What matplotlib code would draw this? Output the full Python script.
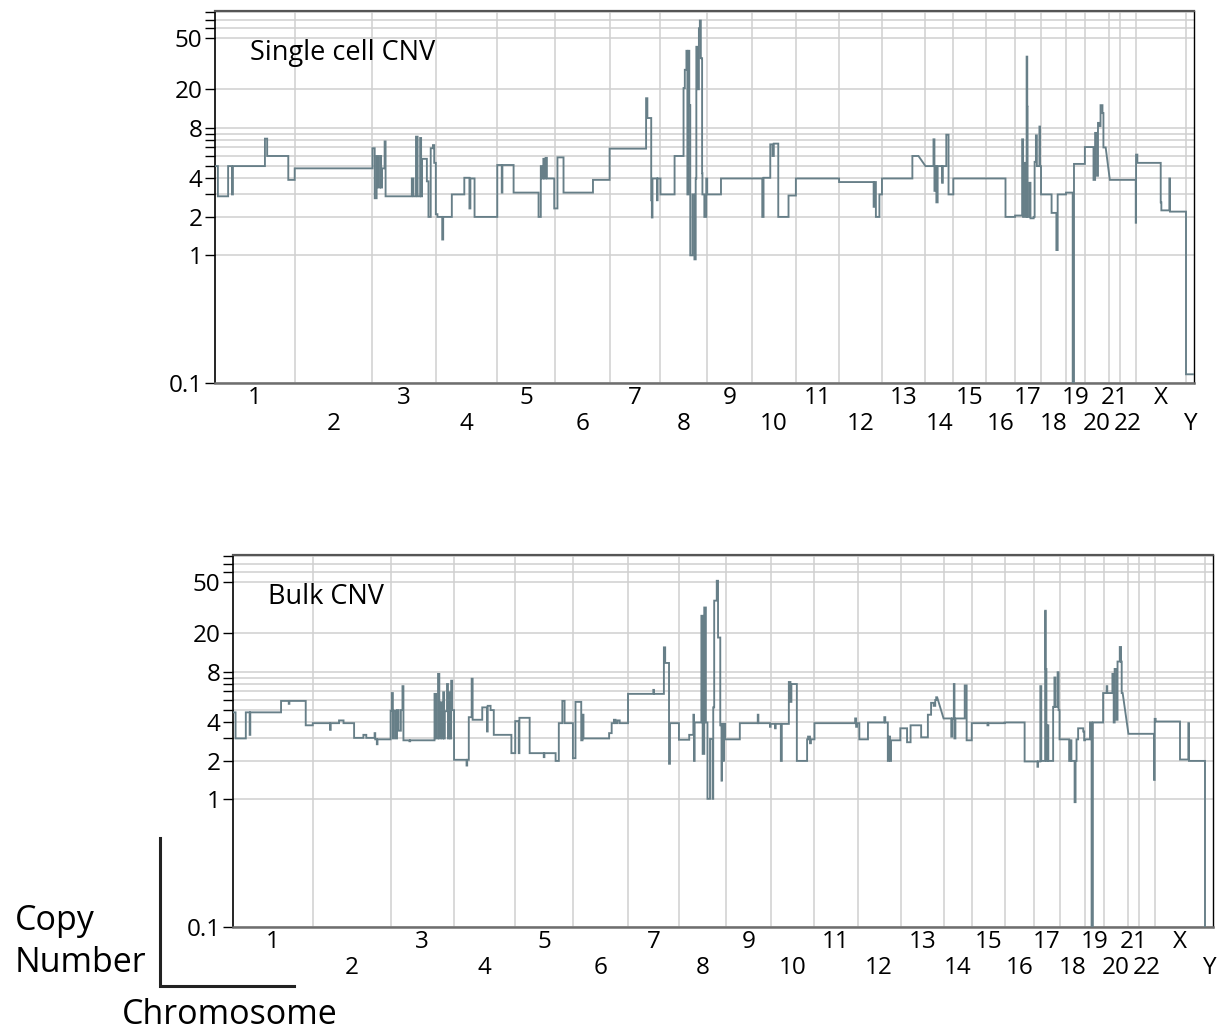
import numpy as np
import matplotlib
matplotlib.use("Agg")
import matplotlib.pyplot as plt
from matplotlib.ticker import NullFormatter

plt.rcParams["font.family"] = ["Open Sans", "DejaVu Sans"]

nan = float("nan")

_LINE = "#677f88"
_GRID = "#d0d0d0"

# chromosome names and plotted lengths (Mb)
chrom_names = [str(i) for i in range(1, 23)] + ["X", "Y"]
chrom_len = [249, 243, 198, 191, 181, 171, 159, 146, 141, 136, 135, 134,
             135, 88, 103, 90, 81, 78, 59, 75, 35, 51, 155, 25]

# single cell: segment start (genome Mb) and copy number, nan = sloped join
sc_pos = [
    0, 9, 41, 53, 56, 156, 163, 229,
    249,
    492, 499, 505, 510, 516, 519, 522, 530, 533, 615, 620, 628, 633, 641,
    644, 647, 662, 667, 674, 681, 685,
    690, 695, 710, 713, 740, 779, 795, 798, 811,
    882, 896, 898, 933, 1011, 1018, 1022, 1026, 1029, 1033, 1037,
    1060, 1070, 1089, 1181,
    1233, 1347, 1351, 1363, 1365, 1367, 1381, 1383,
    1392, 1436, 1464, 1468, 1473, 1476, 1479, 1482, 1485, 1492, 1498, 1502,
    1504, 1507, 1512, 1515, 1518, 1522, 1523, 1529, 1535,
    1538, 1581,
    1710, 1714, 1735, 1742, 1746, 1760, 1792,
    1815,
    1950, 2058, 2061, 2065, 2076,
    2084, 2179, 2198,
    2220, 2245, 2248, 2252, 2254, 2258, 2272, 2274, 2285, 2292,
    2307, 2470,
    2500, 2522, 2525, 2527, 2533, 2536, 2538, 2539, 2545, 2548, 2558, 2561,
    2565, 2568, 2576, 2578,
    2581, 2614, 2629, 2633,
    2659, 2680, 2684,
    2718, 2745, 2750, 2756, 2759, 2762, 2767, 2773, 2776, 2783,
    2796, 2877, 2878,
    2882, 2955, 2957, 2982, 2984,
    3034,
]
sc_cn = [
    5.0, 2.9, 5.0, 3.0, 5.0, 8.2, 6.0, 3.9,
    4.8,
    6.9, 2.8, 6.0, 3.4, 6.0, 3.4, 4.8, 7.8, 2.9, 4.0, 2.9, 8.5, 2.9, 8.3,
    2.9, 5.7, 3.8, 2.0, 6.9, 7.3, 5.3,
    2.1, 2.0, 1.33, 2.0, 3.0, 4.05, 2.33, 4.0, 2.0,
    5.1, 3.1, 5.1, 3.1, 2.0, 5.0, 4.0, 5.7, 4.0, 5.8, 4.0,
    2.33, 5.85, 3.1, 3.9,
    6.85, 17.0, 11.9, 2.7, 1.98, 4.0, 2.7, 4.0,
    3.0, 6.0, 20.4, 28.4, 40.0, 3.0, 40.0, 15.0, 1.0, 3.0, 0.93, 4.0,
    43.0, 20.0, 60.0, 69.0, 35.0, 4.4, 3.0, 2.0, 4.0,
    3.0, 4.0,
    2.0, 4.05, 7.4, 6.0, 7.5, 2.0, 2.94,
    4.0,
    3.75, 2.4, 3.75, 2.0, 3.0,
    4.0, 6.0, nan,
    5.0, 8.1, 3.2, 5.0, 2.6, 5.0, 3.7, 5.0, 8.8, 3.0,
    4.0, 2.0,
    2.05, 8.1, 2.0, 5.3, 2.0, 36.0, 14.6, 2.0, 3.7, 1.95, 2.0, 5.4,
    8.7, 5.0, 10.2, 5.0,
    3.0, 2.15, 1.1, 3.0,
    3.1, 0.05, 5.2,
    7.05, 3.9, 9.1, 4.2, 10.9, 10.3, 15.0, 13.0, 7.0, nan,
    3.9, 1.8, 6.15,
    5.3, 2.6, 2.25, 4.0, 2.2,
    0.117,
]

# bulk: segment start (genome Mb) and copy number
bulk_pos = [
    0, 8, 40, 52, 54, 150, 174, 176, 227,
    249, 303, 305, 331, 345, 378, 407, 416, 442, 444, 449, 451,
    492, 496, 499, 501, 507, 512, 517, 524, 529, 532, 551, 553, 629, 634,
    640, 644, 648, 653, 656, 659, 661, 668, 671, 675, 679, 681, 684,
    690, 729, 731, 736, 745, 748, 778, 793, 795, 804, 814, 869,
    881, 892, 894, 926, 970, 972, 1007, 1017, 1028, 1035,
    1061, 1069, 1087, 1091, 1094, 1174, 1182, 1189, 1194, 1200, 1207,
    1233, 1312, 1314, 1345, 1349, 1361, 1364,
    1392, 1424, 1437, 1439, 1441, 1462, 1466, 1471, 1476, 1481, 1489, 1497,
    1499, 1502, 1510, 1514, 1521, 1525, 1526, 1531, 1532, 1536,
    1582, 1638, 1640, 1676, 1678,
    1692, 1694, 1710, 1713, 1735, 1740, 1743, 1760, 1792, 1795, 1801, 1804,
    1815, 1942, 1945, 1948,
    1955, 1982, 2033, 2036, 2044, 2047, 2051, 2054,
    2083, 2104, 2115, 2148, 2169, 2179, 2187, 2192, 2195, 2198,
    2218, 2242, 2245, 2250, 2252, 2255, 2284, 2290,
    2306, 2355, 2358,
    2409, 2471,
    2511, 2513, 2520, 2523, 2535, 2537, 2539, 2542, 2545, 2560, 2564, 2567,
    2574, 2577,
    2580, 2610, 2614, 2617, 2627, 2630, 2633, 2638, 2654, 2657,
    2659, 2675, 2680, 2684,
    2716, 2727, 2729, 2745, 2749, 2752, 2758, 2761, 2768, 2772, 2774, 2777,
    2795, 2875, 2877,
    2880, 2956, 2982, 2984,
    3034,
]
bulk_cn = [
    4.8, 3.0, 4.8, 3.2, 4.8, 5.9, 5.6, 5.9, 3.8,
    3.95, 3.5, 3.95, 4.15, 3.95, 3.03, 3.2, 3.03, 3.3, 2.95, 2.7, 2.95,
    4.95, 6.8, 3.0, 4.95, 3.0, 5.0, 3.45, 5.0, 7.7, 2.9, 2.85, 2.9, 6.7, 3.0,
    9.6, 3.0, 5.75, 3.0, 6.9, 3.0, 4.9, 8.0, 3.0, 6.9, 3.0, 8.5, 5.0,
    2.04, 1.84, 2.04, 4.4, 8.8, 4.2, 5.25, 3.4, 5.4, 5.0, 3.2, 2.3,
    4.1, 2.3, 4.35, 2.3, 2.14, 2.3, 2.0, 3.95, 5.9, 3.95,
    2.1, 5.8, 2.9, 4.6, 3.0, 3.3, 3.95, 4.2, 3.95, 4.15, 3.95,
    6.7, 7.2, 6.7, 15.5, 11.7, 1.9, 3.95,
    2.93, 3.2, 4.6, 2.0, 4.0, 27.4, 2.27, 31.8, 4.0, 1.01, 2.97, 1.01,
    5.25, 36.0, 51.5, 18.5, 3.8, 1.4, 3.9, 2.0, 3.9, 2.95,
    3.95, 4.6, 3.95, 3.7, 3.9,
    3.6, 3.9, 2.0, 3.9, 8.3, 5.8, 8.0, 2.0, 2.95, 3.1, 2.75, 2.95,
    3.95, 4.3, 3.7, 3.95,
    2.95, 4.0, 4.4, 4.0, 2.0, 3.1, 2.0, 2.9,
    3.6, 2.8, 3.8, 3.06, 4.6, 5.7, 5.4, 6.0, 6.3, nan,
    4.3, 3.1, 4.3, 8.0, 3.0, 4.3, 7.8, 2.9,
    3.95, 3.8, 3.95,
    4.0, 1.98,
    1.8, 1.98, 7.7, 2.0, 30.0, 10.5, 2.0, 3.8, 2.0, 5.3, 9.0, 5.3,
    9.9, 5.0,
    2.95, 2.0, 2.9, 2.0, 0.95, 2.0, 2.95, 3.6, 3.4, 2.9,
    2.95, 4.0, 0.05, 4.0,
    6.8, 7.7, 6.8, 9.6, 4.0, 10.5, 4.2, 12.0, 15.6, 12.0, 6.8, nan,
    3.26, 1.42, 4.27,
    4.07, 2.05, 3.95, 2.0,
    0.05,
]

y_major = [0.1, 1, 2, 4, 10, 20, 50]
y_major_labels = ["0.1", "1", "2", "4", "8", "20", "50"]
y_minor = [3, 5, 6, 7, 8, 9, 60, 70, 80]


def _segment_path(pos, cn, end):
    edges = list(pos) + [end]
    xs, ys = [], []
    for i, v in enumerate(cn):
        if np.isnan(v):
            continue  # leave a gap so neighbours join with a slope
        xs += [edges[i], edges[i + 1]]
        ys += [v, v]
    return xs, ys


def _draw_panel(ax, pos, cn, title):
    assert len(pos) == len(cn)
    starts = np.concatenate([[0], np.cumsum(chrom_len)[:-1]])
    end = float(np.sum(chrom_len))
    mids = starts + np.array(chrom_len) / 2.0

    ax.set_yscale("log")
    ax.set_xlim(0, end)
    ax.set_ylim(0.1, 82)

    for s in starts[1:]:
        ax.axvline(s, color=_GRID, lw=1.1, zorder=1)
    ax.set_yticks(y_major, y_major_labels)
    ax.set_yticks(y_minor, minor=True)
    ax.yaxis.set_minor_formatter(NullFormatter())
    ax.grid(True, which="both", axis="y", color=_GRID, lw=1.1, zorder=1)
    ax.set_axisbelow(True)

    xs, ys = _segment_path(pos, cn, end)
    ax.plot(xs, ys, color=_LINE, lw=1.35, zorder=3, solid_joinstyle="miter")

    odd = list(range(0, len(chrom_names), 2))
    even = list(range(1, len(chrom_names), 2))
    ax.set_xticks(mids[odd], [chrom_names[i] for i in odd])
    ax.set_xticks(mids[even], [chrom_names[i] for i in even], minor=True)
    ax.tick_params(axis="x", which="major", length=0, pad=2.5, labelsize=17.5)
    ax.tick_params(axis="x", which="minor", length=0, pad=21, labelsize=17.5)
    ax.tick_params(axis="y", which="both", direction="out", length=7,
                   width=1, pad=2, labelsize=17.5, color="black")

    ax.spines["left"].set_color("black")
    ax.spines["right"].set_color("black")
    ax.spines["top"].set_color("#555555")
    ax.spines["bottom"].set_color("#6e6e6e")
    ax.spines["left"].set_linewidth(1.2)
    ax.spines["right"].set_linewidth(1.0)
    ax.spines["top"].set_linewidth(1.6)
    ax.spines["bottom"].set_linewidth(1.8)

    ax.text(0.036, 0.868, title, transform=ax.transAxes, fontsize=19.5,
            ha="left", va="baseline")


fig = plt.figure(figsize=(12.18, 10.3), dpi=100)
ax_sc = fig.add_axes([215 / 1218, 1 - 383 / 1030, 979 / 1218, 372 / 1030])
ax_bulk = fig.add_axes([233 / 1218, 1 - 927 / 1030, 980 / 1218, 372 / 1030])

_draw_panel(ax_sc, sc_pos, sc_cn, "Single cell CNV")
_draw_panel(ax_bulk, bulk_pos, bulk_cn, "Bulk CNV")

# axis key in the lower left corner
fig.add_artist(plt.Line2D([160 / 1218, 160 / 1218, 294 / 1218],
                          [1 - 838 / 1030, 1 - 986 / 1030, 1 - 986 / 1030],
                          color="#222222", lw=2.2, solid_joinstyle="miter"))
fig.text(15 / 1218, 1 - 930 / 1030, "Copy", fontsize=24.5, ha="left",
         va="baseline")
fig.text(15 / 1218, 1 - 972 / 1030, "Number", fontsize=24.5, ha="left",
         va="baseline")
fig.text(122 / 1218, 1 - 1024 / 1030, "Chromosome", fontsize=24.5,
         ha="left", va="baseline")

plt.savefig("out.png", dpi=100)
